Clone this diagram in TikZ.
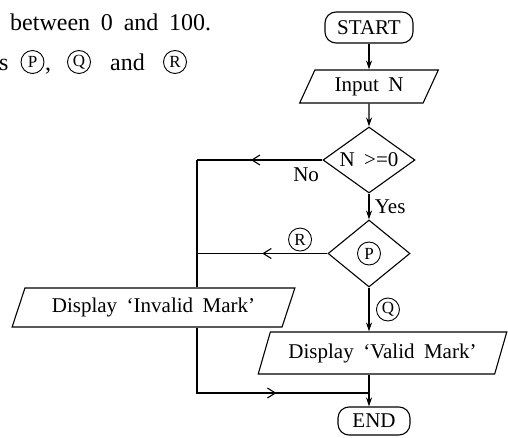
\documentclass[tikz,border=0pt]{standalone}
\usepackage{fontspec}
\setmainfont[WordSpace=1.8]{Liberation Serif}
\usetikzlibrary{arrows.meta}
\usetikzlibrary{positioning}
\usetikzlibrary{shapes.geometric}
\usetikzlibrary{decorations.markings}
\tikzstyle{line} = [line width = 1.1pt]
\tikzstyle{flow} = [line, -{Stealth[length = 9pt, width = 6pt]}]
\tikzstyle{terminal} = [draw, line, rounded corners = 11pt, inner sep = 0]
\tikzstyle{io box} = [draw, line, trapezium, trapezium left angle = 62, trapezium right angle = 118,
                      trapezium stretches = true, inner sep = 0]
\tikzstyle{decision} = [draw, line, diamond, aspect = 1.4, inner sep = 0]
\tikzstyle{chart text} = [font = \fontsize{21}{21}\selectfont]
\tikzstyle{book text} = [font = \fontsize{24}{24}\selectfont, anchor = base west, inner sep = 0]
\tikzstyle{circ mark} = [circle, draw, line width = .9pt, inner sep = 0, minimum size = 23pt,
                         font = \fontsize{17}{17}\selectfont]

\begin{document}
\begin{tikzpicture}[x = 1pt, y = -1pt,
                        mid arrow/.style = {line, postaction = {decorate},
                            decoration = {markings,
                                mark = at position #1 with {\arrow{Straight Barb[length = 8pt, width = 10pt]}}}},
                       ]
        \useasboundingbox (0, 0) rectangle (508, 438);

        % text of the exercise
        \node [book text] (task_line_1) at (10, 31) {between 0 and 100.};
        \node [book text] (task_s) at (-1, 71) {s};
        \node [circ mark] (task_p) at (32.5, 62) {P};
        \node [book text] (task_comma) at (45, 71) {,};
        \node [circ mark] (task_q) at (79, 62) {Q};
        \node [book text] (task_and) at (110, 71) {and};
        \node [circ mark] (task_r) at (175, 62) {R};

        % flowchart
        \node [terminal, chart text, minimum width = 88pt, minimum height = 31pt] (start) at (369, 27.5) {START};
        \node [io box, chart text, minimum width = 139pt, minimum height = 33pt] (input_n) at (369, 86.5) {Input N};
        \node [decision, chart text, minimum width = 92pt, minimum height = 66pt] (check_n) at (369, 160) {N >=0};
        \node [decision, minimum width = 82pt, minimum height = 67pt] (check_p) at (369, 253.5) {};
        \node [circ mark] (mark_p) at (check_p) {P};
        \node [io box, chart text, minimum width = 283pt, minimum height = 39pt] (invalid) at (153.5, 307.5) {Display ‘Invalid Mark’};
        \node [io box, chart text, minimum width = 249pt, minimum height = 42pt] (valid) at (382.5, 353) {Display ‘Valid Mark’};
        \node [terminal, chart text, minimum width = 72pt, minimum height = 28pt] (end) at (374, 421) {END};

        \coordinate (left_rail) at (197, 160);
        \coordinate (merge) at (369, 393);

        \draw [flow] (start) -- (input_n);
        \draw [flow] (input_n) -- (check_n);
        \draw [flow] (check_n) -- node [right = 2pt, chart text] {Yes} (check_p);
        \draw [flow] (check_p) -- node [right = 7pt, circ mark] (mark_q) {Q} (check_p |- valid.north);
        \draw [flow] (check_p |- valid.south) -- (check_p |- end.north);

        \draw [mid arrow = .57] (check_n.west) -- node [below = 4pt, pos = .13, chart text] {No} (left_rail);
        \draw [line] (left_rail) -- (left_rail |- invalid.north);
        \draw [mid arrow = .5] (check_p.west) -- node [above = 2pt, pos = .21, circ mark] (mark_r) {R} (check_p.west -| left_rail);
        \draw [mid arrow = .61] (left_rail |- invalid.south) |- (merge);
    \end{tikzpicture}
\end{document}
